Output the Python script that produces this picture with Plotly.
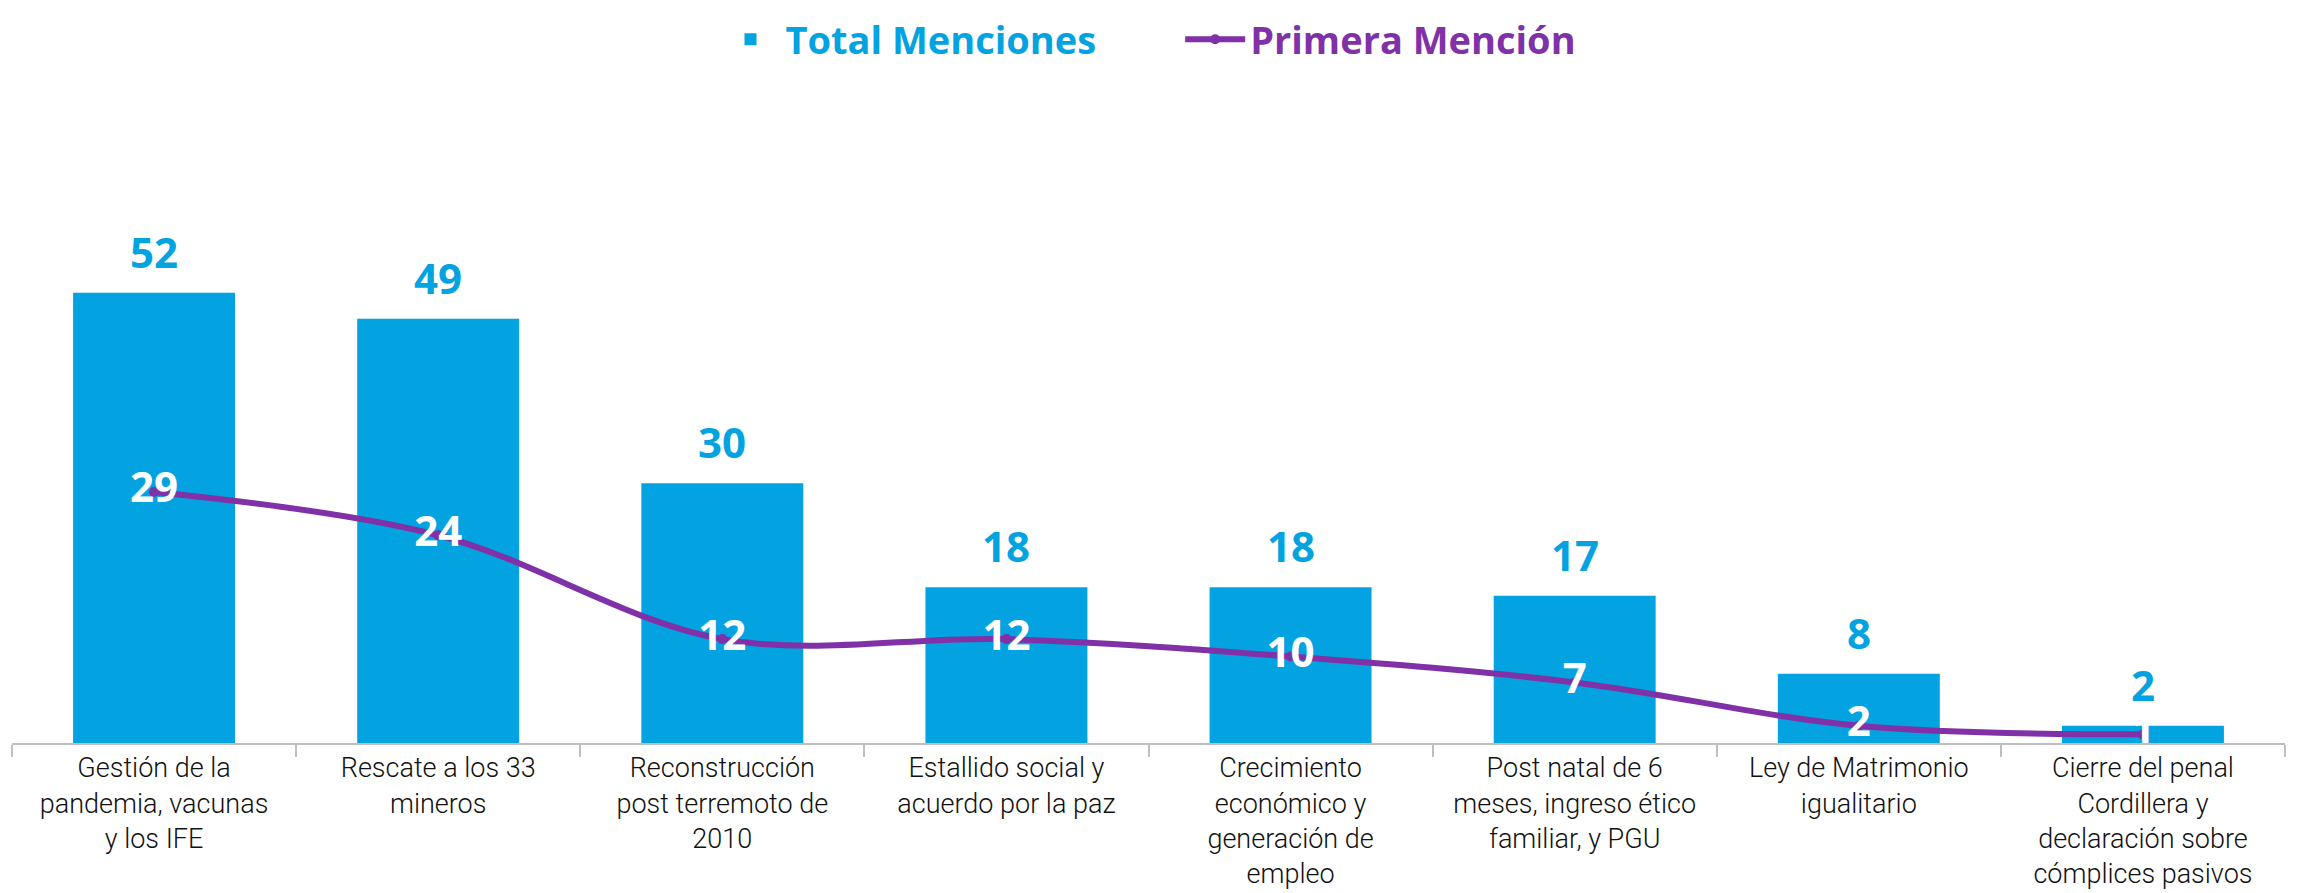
import plotly.graph_objects as go

categories = [
    "Gestión de la<br>pandemia, vacunas<br>y los IFE",
    "Rescate a los 33<br>mineros",
    "Reconstrucción<br>post terremoto de<br>2010",
    "Estallido social y<br>acuerdo por la paz",
    "Crecimiento<br>económico y<br>generación de<br>empleo",
    "Post natal de 6<br>meses, ingreso ético<br>familiar, y PGU",
    "Ley de Matrimonio<br>igualitario",
    "Cierre del penal<br>Cordillera y<br>declaración sobre<br>cómplices pasivos",
]
total_menciones = [52, 49, 30, 18, 18, 17, 8, 2]
primera_mencion = [29, 24, 12, 12, 10, 7, 2, 1]

BLUE = "#02A3E0"
PURPLE = "#8031A7"
NUM_FONT = "Open Sans"

fig = go.Figure()
fig.add_trace(go.Bar(
    x=categories, y=total_menciones,
    name=f"<b><span style='color:{BLUE}'>Total Menciones</span></b>" + "\u00a0" * 8,
    marker=dict(color=BLUE, line=dict(width=0)),
))
fig.add_trace(go.Scatter(
    x=categories, y=primera_mencion,
    name=f"<b><span style='color:{PURPLE}'>Primera Mención</span></b>",
    mode="lines+markers+text",
    line=dict(color=PURPLE, width=6, shape="spline", smoothing=1.0),
    marker=dict(color=PURPLE, size=10),
    text=[f"<b>{v}</b>" for v in primera_mencion],
    textposition="middle center",
    textfont=dict(family=NUM_FONT, size=42, color="white"),
    cliponaxis=False,
))

# value labels above the bars
for c, v in zip(categories, total_menciones):
    fig.add_annotation(
        x=c, y=v, text=f"<b>{v}</b>", showarrow=False,
        yanchor="bottom", yshift=11,
        font=dict(family=NUM_FONT, size=42, color=BLUE),
    )

fig.update_layout(
    width=2289, height=885,
    margin=dict(l=4, r=12, t=129, b=150, autoexpand=False),
    plot_bgcolor="white", paper_bgcolor="white",
    bargap=0.43,
    showlegend=True,
    legend=dict(
        orientation="h", x=0.5, xanchor="center", y=1.2129, yanchor="top",
        font=dict(family="Open Sans", size=38),
        itemwidth=60,
    ),
    xaxis=dict(
        type="category",
        range=[-0.5, 7.5],
        automargin=False,
        showline=True, linecolor="#BFBFBF", linewidth=2,
        ticks="outside", tickson="boundaries", ticklen=12, tickcolor="#BFBFBF", tickwidth=2,
        tickfont=dict(family="Roboto", size=27, color="#111111", weight=300),
        showgrid=False,
    ),
    yaxis=dict(range=[0, 70], visible=False, showgrid=False, zeroline=False, automargin=False),
)

fig.write_html("out.html")
